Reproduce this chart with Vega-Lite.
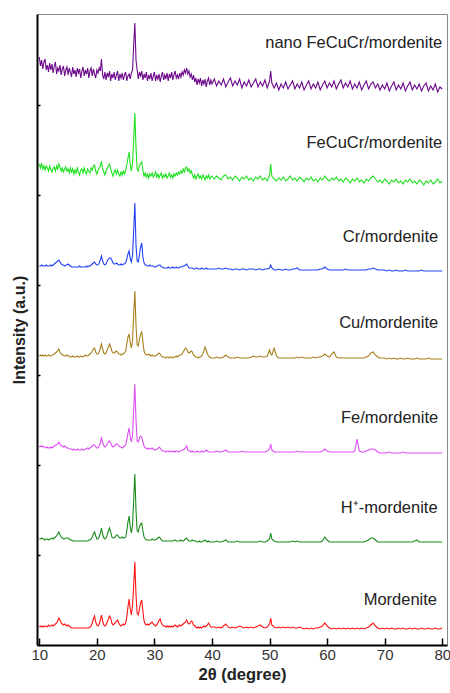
{
"$schema":"https://vega.github.io/schema/vega-lite/v6.json",
"width":410,"height":631,
"autosize":"none",
"padding":{"left":37,"top":14,"right":3,"bottom":48},
"config":{"view":{"stroke":"#888","strokeWidth":1},"font":"Liberation Sans"},
"layer":[
{"data":{"values":[
{"x":10.0,"m":18,"h":106,"fe":198,"cu":289,"cr":379,"f":481,"n":588},
{"x":10.2,"m":19,"h":106,"fe":199,"cu":290,"cr":379,"f":477,"n":579},
{"x":10.4,"m":18,"h":107,"fe":198,"cu":289,"cr":380,"f":482,"n":585},
{"x":10.6,"m":19,"h":106,"fe":199,"cu":290,"cr":379,"f":476,"n":576},
{"x":10.8,"m":18,"h":106,"fe":198,"cu":289,"cr":379,"f":479,"n":583},
{"x":11.0,"m":19,"h":105,"fe":198,"cu":290,"cr":379,"f":475,"n":586},
{"x":11.2,"m":19,"h":106,"fe":197,"cu":289,"cr":380,"f":479,"n":575},
{"x":11.4,"m":18,"h":106,"fe":198,"cu":289,"cr":379,"f":477,"n":580},
{"x":11.6,"m":20,"h":105,"fe":197,"cu":290,"cr":379,"f":474,"n":573},
{"x":11.8,"m":19,"h":106,"fe":197,"cu":289,"cr":379,"f":479,"n":582},
{"x":12.0,"m":19,"h":106,"fe":198,"cu":289,"cr":380,"f":475,"n":575},
{"x":12.2,"m":20,"h":107,"fe":197,"cu":290,"cr":379,"f":473,"n":581},
{"x":12.4,"m":19,"h":106,"fe":198,"cu":290,"cr":380,"f":477,"n":572},
{"x":12.6,"m":20,"h":107,"fe":199,"cu":291,"cr":381,"f":478,"n":579},
{"x":12.8,"m":21,"h":108,"fe":200,"cu":292,"cr":382,"f":474,"n":583},
{"x":13.0,"m":22,"h":109,"fe":200,"cu":293,"cr":383,"f":479,"n":571},
{"x":13.2,"m":24,"h":111,"fe":201,"cu":294,"cr":384,"f":476,"n":577},
{"x":13.4,"m":27,"h":113,"fe":203,"cu":296,"cr":385,"f":481,"n":574},
{"x":13.6,"m":25,"h":110,"fe":201,"cu":293,"cr":383,"f":478,"n":580},
{"x":13.8,"m":22,"h":108,"fe":199,"cu":291,"cr":381,"f":474,"n":570},
{"x":14.0,"m":21,"h":107,"fe":199,"cu":290,"cr":380,"f":477,"n":576},
{"x":14.2,"m":20,"h":106,"fe":198,"cu":290,"cr":380,"f":473,"n":579},
{"x":14.4,"m":21,"h":106,"fe":199,"cu":289,"cr":379,"f":476,"n":569},
{"x":14.6,"m":20,"h":107,"fe":198,"cu":289,"cr":380,"f":478,"n":575},
{"x":14.8,"m":19,"h":107,"fe":197,"cu":290,"cr":380,"f":474,"n":578},
{"x":15.0,"m":20,"h":107,"fe":197,"cu":289,"cr":381,"f":476,"n":570},
{"x":15.2,"m":19,"h":106,"fe":196,"cu":289,"cr":380,"f":472,"n":577},
{"x":15.4,"m":18,"h":105,"fe":196,"cu":288,"cr":379,"f":477,"n":573},
{"x":15.6,"m":17,"h":105,"fe":196,"cu":288,"cr":378,"f":473,"n":568},
{"x":15.8,"m":17,"h":104,"fe":195,"cu":289,"cr":378,"f":476,"n":578},
{"x":16.0,"m":17,"h":104,"fe":196,"cu":288,"cr":378,"f":471,"n":571},
{"x":16.2,"m":17,"h":104,"fe":195,"cu":288,"cr":378,"f":475,"n":575},
{"x":16.4,"m":17,"h":104,"fe":195,"cu":288,"cr":378,"f":472,"n":568},
{"x":16.6,"m":17,"h":104,"fe":196,"cu":289,"cr":378,"f":477,"n":577},
{"x":16.8,"m":17,"h":104,"fe":195,"cu":288,"cr":378,"f":473,"n":572},
{"x":17.0,"m":17,"h":104,"fe":195,"cu":288,"cr":379,"f":470,"n":576},
{"x":17.2,"m":17,"h":104,"fe":195,"cu":289,"cr":378,"f":475,"n":567},
{"x":17.4,"m":17,"h":104,"fe":196,"cu":288,"cr":378,"f":476,"n":574},
{"x":17.6,"m":17,"h":104,"fe":195,"cu":288,"cr":378,"f":472,"n":578},
{"x":17.8,"m":17,"h":104,"fe":195,"cu":289,"cr":378,"f":477,"n":569},
{"x":18.0,"m":17,"h":104,"fe":196,"cu":290,"cr":378,"f":473,"n":575},
{"x":18.2,"m":17,"h":104,"fe":196,"cu":289,"cr":379,"f":471,"n":571},
{"x":18.4,"m":17,"h":104,"fe":197,"cu":289,"cr":378,"f":476,"n":577},
{"x":18.6,"m":17,"h":105,"fe":196,"cu":290,"cr":379,"f":474,"n":567},
{"x":18.8,"m":18,"h":105,"fe":197,"cu":291,"cr":379,"f":472,"n":574},
{"x":19.0,"m":19,"h":106,"fe":198,"cu":292,"cr":380,"f":477,"n":577},
{"x":19.2,"m":22,"h":108,"fe":199,"cu":294,"cr":381,"f":475,"n":569},
{"x":19.4,"m":26,"h":111,"fe":200,"cu":296,"cr":382,"f":479,"n":576},
{"x":19.6,"m":29,"h":113,"fe":200,"cu":297,"cr":383,"f":480,"n":571},
{"x":19.8,"m":23,"h":109,"fe":198,"cu":293,"cr":381,"f":474,"n":567},
{"x":20.0,"m":20,"h":106,"fe":197,"cu":291,"cr":380,"f":471,"n":575},
{"x":20.2,"m":19,"h":106,"fe":197,"cu":291,"cr":380,"f":475,"n":572},
{"x":20.4,"m":21,"h":108,"fe":199,"cu":293,"cr":382,"f":477,"n":577},
{"x":20.6,"m":25,"h":112,"fe":202,"cu":297,"cr":385,"f":479,"n":574},
{"x":20.8,"m":30,"h":117,"fe":207,"cu":301,"cr":389,"f":484,"n":586},
{"x":21.0,"m":24,"h":111,"fe":203,"cu":296,"cr":384,"f":476,"n":570},
{"x":21.2,"m":20,"h":107,"fe":199,"cu":292,"cr":381,"f":473,"n":566},
{"x":21.4,"m":19,"h":106,"fe":198,"cu":291,"cr":380,"f":470,"n":573},
{"x":21.6,"m":20,"h":107,"fe":199,"cu":292,"cr":381,"f":474,"n":565},
{"x":21.8,"m":23,"h":110,"fe":201,"cu":295,"cr":384,"f":477,"n":572},
{"x":22.0,"m":26,"h":114,"fe":203,"cu":298,"cr":386,"f":479,"n":568},
{"x":22.2,"m":29,"h":117,"fe":204,"cu":301,"cr":387,"f":481,"n":574},
{"x":22.4,"m":27,"h":113,"fe":202,"cu":298,"cr":387,"f":476,"n":564},
{"x":22.6,"m":22,"h":108,"fe":199,"cu":294,"cr":385,"f":472,"n":571},
{"x":22.8,"m":20,"h":107,"fe":198,"cu":292,"cr":382,"f":469,"n":567},
{"x":23.0,"m":21,"h":107,"fe":199,"cu":292,"cr":381,"f":473,"n":573},
{"x":23.2,"m":22,"h":108,"fe":200,"cu":293,"cr":381,"f":475,"n":565},
{"x":23.4,"m":24,"h":110,"fe":201,"cu":294,"cr":382,"f":471,"n":570},
{"x":23.6,"m":25,"h":110,"fe":201,"cu":293,"cr":381,"f":475,"n":574},
{"x":23.8,"m":22,"h":108,"fe":199,"cu":291,"cr":380,"f":471,"n":564},
{"x":24.0,"m":20,"h":107,"fe":198,"cu":291,"cr":380,"f":469,"n":571},
{"x":24.2,"m":19,"h":107,"fe":198,"cu":290,"cr":381,"f":473,"n":567},
{"x":24.4,"m":20,"h":108,"fe":197,"cu":291,"cr":380,"f":470,"n":572},
{"x":24.6,"m":21,"h":107,"fe":198,"cu":291,"cr":381,"f":474,"n":565},
{"x":24.8,"m":20,"h":107,"fe":199,"cu":292,"cr":381,"f":471,"n":570},
{"x":25.0,"m":22,"h":108,"fe":200,"cu":294,"cr":382,"f":474,"n":573},
{"x":25.2,"m":28,"h":114,"fe":205,"cu":301,"cr":386,"f":480,"n":564},
{"x":25.4,"m":38,"h":123,"fe":212,"cu":308,"cr":391,"f":487,"n":569},
{"x":25.6,"m":46,"h":129,"fe":217,"cu":311,"cr":394,"f":493,"n":571},
{"x":25.8,"m":36,"h":118,"fe":208,"cu":302,"cr":386,"f":480,"n":566},
{"x":26.0,"m":30,"h":112,"fe":203,"cu":297,"cr":383,"f":474,"n":572},
{"x":26.2,"m":40,"h":120,"fe":210,"cu":305,"cr":390,"f":482,"n":575},
{"x":26.4,"m":60,"h":145,"fe":235,"cu":330,"cr":415,"f":505,"n":600},
{"x":26.6,"m":83,"h":171,"fe":261,"cu":354,"cr":442,"f":532,"n":622},
{"x":26.8,"m":50,"h":135,"fe":225,"cu":320,"cr":400,"f":498,"n":585},
{"x":27.0,"m":32,"h":114,"fe":204,"cu":300,"cr":384,"f":476,"n":575},
{"x":27.2,"m":30,"h":113,"fe":203,"cu":299,"cr":383,"f":474,"n":566},
{"x":27.4,"m":36,"h":118,"fe":207,"cu":306,"cr":390,"f":480,"n":573},
{"x":27.6,"m":42,"h":121,"fe":209,"cu":311,"cr":398,"f":481,"n":569},
{"x":27.8,"m":45,"h":122,"fe":208,"cu":313,"cr":402,"f":483,"n":574},
{"x":28.0,"m":34,"h":114,"fe":203,"cu":303,"cr":388,"f":475,"n":565},
{"x":28.2,"m":24,"h":108,"fe":199,"cu":294,"cr":382,"f":469,"n":571},
{"x":28.4,"m":21,"h":106,"fe":197,"cu":291,"cr":380,"f":472,"n":567},
{"x":28.6,"m":20,"h":105,"fe":197,"cu":290,"cr":380,"f":468,"n":573},
{"x":28.8,"m":21,"h":105,"fe":196,"cu":290,"cr":379,"f":471,"n":564},
{"x":29.0,"m":20,"h":105,"fe":197,"cu":291,"cr":379,"f":467,"n":570},
{"x":29.2,"m":21,"h":105,"fe":196,"cu":290,"cr":380,"f":471,"n":566},
{"x":29.4,"m":22,"h":105,"fe":196,"cu":289,"cr":379,"f":469,"n":572},
{"x":29.6,"m":23,"h":106,"fe":197,"cu":290,"cr":379,"f":472,"n":564},
{"x":29.8,"m":21,"h":105,"fe":196,"cu":289,"cr":379,"f":468,"n":569},
{"x":30.0,"m":20,"h":105,"fe":195,"cu":289,"cr":378,"f":470,"n":573},
{"x":30.2,"m":19,"h":105,"fe":195,"cu":289,"cr":378,"f":473,"n":564},
{"x":30.4,"m":20,"h":106,"fe":196,"cu":290,"cr":379,"f":468,"n":570},
{"x":30.6,"m":22,"h":107,"fe":196,"cu":291,"cr":379,"f":471,"n":566},
{"x":30.8,"m":25,"h":108,"fe":198,"cu":292,"cr":380,"f":467,"n":571},
{"x":31.0,"m":26,"h":107,"fe":197,"cu":291,"cr":380,"f":470,"n":563},
{"x":31.2,"m":22,"h":105,"fe":195,"cu":289,"cr":378,"f":472,"n":569},
{"x":31.4,"m":20,"h":104,"fe":194,"cu":288,"cr":378,"f":467,"n":573},
{"x":31.6,"m":19,"h":104,"fe":194,"cu":288,"cr":377,"f":470,"n":565},
{"x":31.8,"m":19,"h":104,"fe":194,"cu":288,"cr":377,"f":468,"n":570},
{"x":32.0,"m":18,"h":104,"fe":193,"cu":287,"cr":377,"f":471,"n":566},
{"x":32.2,"m":19,"h":104,"fe":194,"cu":288,"cr":377,"f":467,"n":572},
{"x":32.4,"m":18,"h":104,"fe":194,"cu":288,"cr":378,"f":469,"n":564},
{"x":32.6,"m":19,"h":104,"fe":193,"cu":287,"cr":377,"f":472,"n":571},
{"x":32.8,"m":18,"h":104,"fe":194,"cu":288,"cr":377,"f":468,"n":567},
{"x":33.0,"m":19,"h":104,"fe":194,"cu":288,"cr":377,"f":470,"n":573},
{"x":33.2,"m":18,"h":104,"fe":193,"cu":287,"cr":378,"f":467,"n":565},
{"x":33.4,"m":19,"h":105,"fe":194,"cu":288,"cr":377,"f":471,"n":570},
{"x":33.6,"m":20,"h":105,"fe":193,"cu":288,"cr":377,"f":469,"n":574},
{"x":33.8,"m":19,"h":104,"fe":194,"cu":289,"cr":378,"f":472,"n":567},
{"x":34.0,"m":18,"h":104,"fe":194,"cu":288,"cr":377,"f":470,"n":570},
{"x":34.2,"m":19,"h":104,"fe":193,"cu":289,"cr":377,"f":473,"n":566},
{"x":34.4,"m":20,"h":104,"fe":194,"cu":290,"cr":378,"f":471,"n":572},
{"x":34.6,"m":19,"h":105,"fe":194,"cu":290,"cr":378,"f":474,"n":568},
{"x":34.8,"m":20,"h":104,"fe":195,"cu":291,"cr":378,"f":472,"n":573},
{"x":35.0,"m":21,"h":104,"fe":195,"cu":293,"cr":379,"f":476,"n":570},
{"x":35.2,"m":22,"h":105,"fe":196,"cu":295,"cr":379,"f":473,"n":575},
{"x":35.4,"m":23,"h":106,"fe":197,"cu":297,"cr":380,"f":477,"n":572},
{"x":35.6,"m":25,"h":107,"fe":199,"cu":296,"cr":381,"f":478,"n":577},
{"x":35.8,"m":22,"h":105,"fe":195,"cu":293,"cr":379,"f":474,"n":571},
{"x":36.0,"m":21,"h":104,"fe":194,"cu":292,"cr":377,"f":476,"n":574},
{"x":36.2,"m":22,"h":104,"fe":194,"cu":293,"cr":377,"f":472,"n":568},
{"x":36.4,"m":24,"h":104,"fe":193,"cu":294,"cr":377,"f":474,"n":571},
{"x":36.6,"m":23,"h":105,"fe":194,"cu":293,"cr":377,"f":470,"n":565},
{"x":36.8,"m":20,"h":104,"fe":193,"cu":290,"cr":376,"f":467,"n":570},
{"x":37.0,"m":19,"h":104,"fe":193,"cu":289,"cr":376,"f":470,"n":563},
{"x":37.2,"m":18,"h":104,"fe":193,"cu":288,"cr":377,"f":466,"n":567},
{"x":37.4,"m":17,"h":103,"fe":194,"cu":288,"cr":377,"f":469,"n":560},
{"x":37.6,"m":18,"h":103,"fe":193,"cu":287,"cr":376,"f":471,"n":566},
{"x":37.8,"m":17,"h":104,"fe":193,"cu":288,"cr":376,"f":467,"n":562},
{"x":38.0,"m":18,"h":103,"fe":193,"cu":288,"cr":376,"f":469,"n":567},
{"x":38.2,"m":17,"h":103,"fe":194,"cu":289,"cr":377,"f":466,"n":559},
{"x":38.4,"m":18,"h":104,"fe":193,"cu":291,"cr":376,"f":470,"n":565},
{"x":38.6,"m":19,"h":104,"fe":193,"cu":294,"cr":376,"f":468,"n":561},
{"x":38.8,"m":18,"h":105,"fe":194,"cu":298,"cr":376,"f":465,"n":566},
{"x":39.0,"m":19,"h":104,"fe":195,"cu":295,"cr":377,"f":469,"n":558},
{"x":39.2,"m":20,"h":103,"fe":194,"cu":291,"cr":376,"f":467,"n":564},
{"x":39.4,"m":22,"h":104,"fe":193,"cu":289,"cr":376,"f":470,"n":567},
{"x":39.6,"m":20,"h":103,"fe":193,"cu":288,"cr":376,"f":466,"n":560},
{"x":39.8,"m":18,"h":103,"fe":193,"cu":287,"cr":376,"f":468,"n":565},
{"x":40.0,"m":18,"h":103,"fe":193,"cu":287,"cr":376,"f":469,"n":561},
{"x":40.4,"m":18,"h":103,"fe":193,"cu":287,"cr":376,"f":466,"n":566},
{"x":40.8,"m":17,"h":104,"fe":194,"cu":288,"cr":376,"f":469,"n":559},
{"x":41.2,"m":18,"h":103,"fe":193,"cu":287,"cr":377,"f":467,"n":564},
{"x":41.6,"m":17,"h":103,"fe":193,"cu":287,"cr":376,"f":465,"n":560},
{"x":42.0,"m":19,"h":104,"fe":194,"cu":288,"cr":376,"f":469,"n":566},
{"x":42.4,"m":21,"h":105,"fe":195,"cu":290,"cr":377,"f":470,"n":558},
{"x":42.8,"m":18,"h":103,"fe":193,"cu":288,"cr":376,"f":466,"n":563},
{"x":43.2,"m":17,"h":103,"fe":193,"cu":287,"cr":376,"f":468,"n":567},
{"x":43.6,"m":18,"h":103,"fe":193,"cu":287,"cr":375,"f":465,"n":559},
{"x":44.0,"m":17,"h":103,"fe":193,"cu":287,"cr":376,"f":469,"n":564},
{"x":44.4,"m":18,"h":104,"fe":193,"cu":288,"cr":376,"f":467,"n":560},
{"x":44.8,"m":19,"h":103,"fe":193,"cu":287,"cr":375,"f":464,"n":566},
{"x":45.2,"m":18,"h":103,"fe":194,"cu":287,"cr":376,"f":468,"n":557},
{"x":45.6,"m":17,"h":103,"fe":193,"cu":287,"cr":376,"f":466,"n":563},
{"x":46.0,"m":18,"h":103,"fe":193,"cu":287,"cr":375,"f":469,"n":559},
{"x":46.4,"m":17,"h":103,"fe":193,"cu":287,"cr":376,"f":465,"n":565},
{"x":46.8,"m":18,"h":103,"fe":193,"cu":288,"cr":376,"f":467,"n":558},
{"x":47.2,"m":17,"h":103,"fe":193,"cu":289,"cr":376,"f":464,"n":562},
{"x":47.6,"m":18,"h":103,"fe":193,"cu":288,"cr":375,"f":468,"n":566},
{"x":48.0,"m":19,"h":103,"fe":193,"cu":288,"cr":376,"f":466,"n":558},
{"x":48.4,"m":20,"h":104,"fe":193,"cu":289,"cr":376,"f":469,"n":563},
{"x":48.8,"m":18,"h":103,"fe":193,"cu":288,"cr":375,"f":465,"n":559},
{"x":49.2,"m":17,"h":103,"fe":193,"cu":288,"cr":376,"f":467,"n":565},
{"x":49.6,"m":18,"h":104,"fe":194,"cu":289,"cr":376,"f":464,"n":557},
{"x":50.0,"m":21,"h":106,"fe":196,"cu":295,"cr":377,"f":470,"n":564},
{"x":50.2,"m":27,"h":112,"fe":201,"cu":291,"cr":380,"f":481,"n":574},
{"x":50.4,"m":20,"h":106,"fe":195,"cu":290,"cr":377,"f":469,"n":562},
{"x":50.8,"m":18,"h":104,"fe":193,"cu":297,"cr":375,"f":466,"n":557},
{"x":51.2,"m":17,"h":103,"fe":193,"cu":289,"cr":375,"f":464,"n":562},
{"x":51.6,"m":18,"h":103,"fe":193,"cu":287,"cr":376,"f":467,"n":555},
{"x":52.0,"m":17,"h":103,"fe":193,"cu":287,"cr":375,"f":465,"n":561},
{"x":52.4,"m":18,"h":103,"fe":193,"cu":287,"cr":375,"f":468,"n":557},
{"x":52.8,"m":17,"h":103,"fe":193,"cu":287,"cr":376,"f":464,"n":563},
{"x":53.2,"m":18,"h":103,"fe":193,"cu":287,"cr":375,"f":466,"n":556},
{"x":53.6,"m":17,"h":103,"fe":193,"cu":287,"cr":375,"f":469,"n":560},
{"x":54.0,"m":18,"h":104,"fe":193,"cu":287,"cr":376,"f":465,"n":564},
{"x":54.4,"m":17,"h":103,"fe":193,"cu":287,"cr":376,"f":467,"n":556},
{"x":54.8,"m":17,"h":104,"fe":194,"cu":288,"cr":377,"f":464,"n":561},
{"x":55.2,"m":18,"h":103,"fe":193,"cu":287,"cr":375,"f":468,"n":557},
{"x":55.6,"m":17,"h":103,"fe":193,"cu":288,"cr":375,"f":466,"n":563},
{"x":56.0,"m":16,"h":103,"fe":193,"cu":287,"cr":375,"f":463,"n":555},
{"x":56.4,"m":17,"h":103,"fe":193,"cu":287,"cr":375,"f":467,"n":560},
{"x":56.8,"m":16,"h":103,"fe":193,"cu":287,"cr":375,"f":465,"n":564},
{"x":57.2,"m":17,"h":103,"fe":193,"cu":287,"cr":375,"f":468,"n":556},
{"x":57.6,"m":16,"h":103,"fe":193,"cu":288,"cr":375,"f":464,"n":561},
{"x":58.0,"m":17,"h":103,"fe":193,"cu":287,"cr":375,"f":466,"n":557},
{"x":58.4,"m":17,"h":103,"fe":193,"cu":288,"cr":375,"f":463,"n":563},
{"x":58.8,"m":18,"h":103,"fe":193,"cu":288,"cr":376,"f":467,"n":555},
{"x":59.2,"m":19,"h":104,"fe":194,"cu":289,"cr":376,"f":465,"n":560},
{"x":59.6,"m":22,"h":108,"fe":196,"cu":291,"cr":378,"f":469,"n":564},
{"x":60.0,"m":19,"h":105,"fe":194,"cu":289,"cr":376,"f":466,"n":557},
{"x":60.4,"m":17,"h":103,"fe":193,"cu":288,"cr":375,"f":464,"n":562},
{"x":60.8,"m":16,"h":103,"fe":193,"cu":291,"cr":375,"f":467,"n":558},
{"x":61.2,"m":17,"h":103,"fe":193,"cu":293,"cr":375,"f":465,"n":564},
{"x":61.6,"m":16,"h":103,"fe":193,"cu":288,"cr":375,"f":468,"n":556},
{"x":62.0,"m":17,"h":103,"fe":193,"cu":287,"cr":375,"f":464,"n":561},
{"x":62.4,"m":16,"h":103,"fe":193,"cu":287,"cr":375,"f":466,"n":565},
{"x":62.8,"m":17,"h":103,"fe":193,"cu":287,"cr":375,"f":463,"n":557},
{"x":63.2,"m":16,"h":103,"fe":193,"cu":287,"cr":376,"f":467,"n":562},
{"x":63.6,"m":17,"h":103,"fe":193,"cu":287,"cr":375,"f":465,"n":558},
{"x":64.0,"m":16,"h":103,"fe":193,"cu":287,"cr":375,"f":462,"n":564},
{"x":64.4,"m":17,"h":103,"fe":193,"cu":287,"cr":375,"f":466,"n":556},
{"x":64.8,"m":16,"h":103,"fe":194,"cu":287,"cr":375,"f":464,"n":561},
{"x":65.2,"m":17,"h":103,"fe":206,"cu":287,"cr":375,"f":467,"n":557},
{"x":65.6,"m":16,"h":103,"fe":194,"cu":287,"cr":375,"f":463,"n":563},
{"x":66.0,"m":17,"h":103,"fe":193,"cu":287,"cr":375,"f":465,"n":555},
{"x":66.4,"m":16,"h":103,"fe":193,"cu":287,"cr":375,"f":462,"n":560},
{"x":66.8,"m":17,"h":104,"fe":194,"cu":288,"cr":375,"f":466,"n":564},
{"x":67.2,"m":18,"h":105,"fe":195,"cu":289,"cr":376,"f":464,"n":556},
{"x":67.6,"m":20,"h":107,"fe":196,"cu":292,"cr":376,"f":467,"n":561},
{"x":68.0,"m":22,"h":107,"fe":196,"cu":293,"cr":377,"f":469,"n":563},
{"x":68.4,"m":19,"h":105,"fe":195,"cu":290,"cr":376,"f":466,"n":557},
{"x":68.8,"m":17,"h":103,"fe":193,"cu":288,"cr":375,"f":463,"n":561},
{"x":69.2,"m":16,"h":103,"fe":192,"cu":287,"cr":375,"f":465,"n":555},
{"x":69.6,"m":17,"h":103,"fe":192,"cu":287,"cr":375,"f":462,"n":560},
{"x":70.0,"m":16,"h":103,"fe":192,"cu":287,"cr":375,"f":466,"n":556},
{"x":70.4,"m":17,"h":103,"fe":192,"cu":286,"cr":374,"f":464,"n":562},
{"x":70.8,"m":16,"h":103,"fe":193,"cu":287,"cr":375,"f":461,"n":554},
{"x":71.2,"m":17,"h":103,"fe":192,"cu":286,"cr":374,"f":465,"n":559},
{"x":71.6,"m":16,"h":103,"fe":192,"cu":287,"cr":374,"f":463,"n":563},
{"x":72.0,"m":16,"h":103,"fe":192,"cu":286,"cr":375,"f":466,"n":555},
{"x":72.4,"m":17,"h":103,"fe":192,"cu":286,"cr":374,"f":462,"n":560},
{"x":72.8,"m":16,"h":103,"fe":192,"cu":287,"cr":374,"f":464,"n":556},
{"x":73.2,"m":17,"h":103,"fe":193,"cu":286,"cr":374,"f":461,"n":562},
{"x":73.6,"m":16,"h":103,"fe":192,"cu":286,"cr":375,"f":465,"n":554},
{"x":74.0,"m":16,"h":103,"fe":192,"cu":287,"cr":374,"f":463,"n":559},
{"x":74.4,"m":17,"h":103,"fe":192,"cu":286,"cr":374,"f":466,"n":563},
{"x":74.8,"m":16,"h":103,"fe":192,"cu":286,"cr":374,"f":462,"n":555},
{"x":75.2,"m":17,"h":104,"fe":192,"cu":286,"cr":374,"f":464,"n":560},
{"x":75.6,"m":16,"h":105,"fe":192,"cu":287,"cr":374,"f":461,"n":556},
{"x":76.0,"m":16,"h":103,"fe":192,"cu":286,"cr":374,"f":465,"n":561},
{"x":76.4,"m":17,"h":103,"fe":192,"cu":286,"cr":375,"f":463,"n":554},
{"x":76.8,"m":16,"h":103,"fe":192,"cu":286,"cr":374,"f":460,"n":559},
{"x":77.2,"m":16,"h":103,"fe":192,"cu":286,"cr":374,"f":464,"n":562},
{"x":77.6,"m":17,"h":103,"fe":192,"cu":287,"cr":374,"f":462,"n":554},
{"x":78.0,"m":16,"h":103,"fe":192,"cu":286,"cr":374,"f":465,"n":559},
{"x":78.4,"m":16,"h":103,"fe":192,"cu":286,"cr":374,"f":461,"n":555},
{"x":78.8,"m":17,"h":103,"fe":192,"cu":286,"cr":374,"f":463,"n":561},
{"x":79.2,"m":16,"h":103,"fe":192,"cu":286,"cr":374,"f":466,"n":553},
{"x":79.6,"m":16,"h":103,"fe":192,"cu":286,"cr":374,"f":462,"n":558},
{"x":80.0,"m":17,"h":103,"fe":192,"cu":286,"cr":374,"f":464,"n":556}
]},
"transform":[{"fold":["m","h","fe","cu","cr","f","n"],"as":["s","v"]}],
"mark":{"type":"line","clip":true},
"encoding":{
"x":{"field":"x","type":"quantitative","scale":{"domain":[9.6,80.83],"nice":false,"zero":false},
"axis":{"values":[10,15,20,25,30,35,40,45,50,55,60,65,70,75,80],
"labelExpr":"datum.value % 10 === 0 ? datum.label : ''",
"tickSize":{"condition":{"test":"datum.value % 10 === 0","value":-7},"value":-3},
"tickColor":"black","tickWidth":1.5,"domainColor":"black","domainWidth":2,"grid":false,
"labelFontSize":15,"labelFont":"Liberation Sans","labelColor":"#333","labelPadding":9,"labelOverlap":false,"labelFlush":false,
"title":"2θ (degree)","titleFont":"Liberation Sans","titleFontSize":16.5,"titleFontWeight":"bold","titleColor":"#222","titlePadding":4}},
"y":{"field":"v","type":"quantitative","scale":{"domain":[0,631],"nice":false,"zero":false},
"axis":{"values":[90,180,270,360,450,540],"labels":false,"tickSize":-3,"tickColor":"black","tickWidth":1.5,"domainColor":"black","domainWidth":2,"grid":false,
"title":"Intensity (a.u.)","titleFont":"Liberation Sans","titleFontSize":16,"titleFontWeight":"bold","titleColor":"#222","titlePadding":9}},
"color":{"field":"s","type":"nominal","legend":null,
"scale":{"domain":["m","h","fe","cu","cr","f","n"],"range":["#ff1414","#1a8c1a","#dd4ef5","#a87f1c","#2340f5","#1fe01f","#6c0a8c"]}},
"strokeWidth":{"field":"s","type":"nominal","legend":null,
"scale":{"domain":["m","h","fe","cu","cr","f","n"],"range":[1.1,1.1,1.1,1.1,1.1,1.7,2.2]}},
"detail":{"field":"s"}
}},
{"data":{"values":[
{"t":"nano FeCuCr/mordenite","x":80.0,"y":602},
{"t":"FeCuCr/mordenite","x":80.0,"y":502},
{"t":"Cr/mordenite","x":79.3,"y":408},
{"t":"Cu/mordenite","x":79.3,"y":322},
{"t":"Fe/mordenite","x":79.3,"y":227},
{"t":"H⁺-mordenite","x":79.2,"y":137},
{"t":"Mordenite","x":79.1,"y":45}
]},
"mark":{"type":"text","align":"right","baseline":"middle","font":"Liberation Sans","fontSize":16.5,"color":"#222"},
"encoding":{
"x":{"field":"x","type":"quantitative"},
"y":{"field":"y","type":"quantitative"},
"text":{"field":"t"}
}}
]
}
